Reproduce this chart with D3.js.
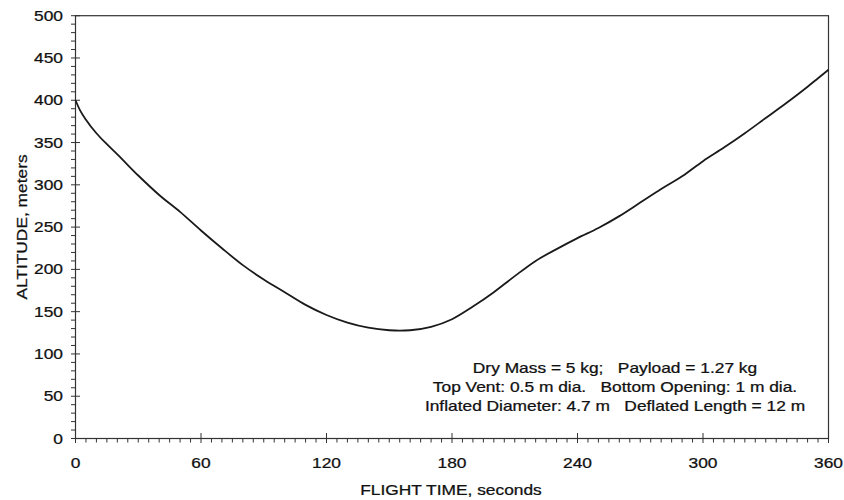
<!DOCTYPE html>
<html lang="en">
<head>
  <meta charset="UTF-8">
  <title>Altitude vs Flight Time</title>
  <script src="https://d3js.org/d3.v7.min.js"></script>
  <style>
    body {
      margin: 0;
      background-color: #ffffff;
      font-family: "Liberation Sans", Arial, sans-serif;
    }
    svg text {
      fill: #111;
      stroke: #111;
      stroke-width: 0.25px;
      white-space: pre;
    }
  </style>
</head>
<body>
  <div id="chart"></div>

  <script>
    // values
    const flightTime = [0, 2, 5, 10, 15, 20, 30, 40, 50, 60, 70, 80, 90, 100, 110, 120, 130, 140, 150, 155,
      160, 170, 180, 190, 200, 210, 220, 230, 240, 250, 260, 270, 280, 290, 300, 310, 320, 330, 340, 350, 355, 360];
    const altitude = [400, 389, 377, 361, 348, 336, 311, 288, 268, 246, 225, 205, 188, 173, 158, 146, 137, 131, 128, 127.5,
      128, 132, 141, 156, 173, 192, 210, 224, 237, 249, 263, 279, 295, 310, 328, 344, 361, 379, 397, 416, 426, 436];

    const xMajor = [0, 60, 120, 180, 240, 300, 360];
    const yMajor = [0, 50, 100, 150, 200, 250, 300, 350, 400, 450, 500];
    const notes = [
      "Dry Mass = 5 kg;   Payload = 1.27 kg",
      "Top Vent: 0.5 m dia.   Bottom Opening: 1 m dia.",
      "Inflated Diameter: 4.7 m   Deflated Length = 12 m"
    ];

    const width = 844, height = 500;
    const stretch = 1.24; // the reference text is drawn a bit wide

    const x = d3.scaleLinear().domain([0, 360]).range([75.5, 828.5]);
    const y = d3.scaleLinear().domain([0, 500]).range([438.5, 15.7]);

    const svg = d3.select("#chart")
      .append("svg")
      .attr("width", width)
      .attr("height", height);

    function label(g, px, py, text, anchor, size, rot) {
      return g.append("text")
        .attr("transform", `translate(${px},${py})${rot ? " rotate(" + rot + ")" : ""} scale(${stretch},1)`)
        .attr("text-anchor", anchor)
        .attr("xml:space", "preserve")
        .style("font-size", size + "px")
        .text(text);
    }

    // frame
    svg.append("rect")
      .attr("x", x(0))
      .attr("y", y(500))
      .attr("width", x(360) - x(0))
      .attr("height", y(0) - y(500))
      .attr("fill", "none")
      .attr("stroke", "#333")
      .attr("stroke-width", 1.2);

    // y ticks
    const yMinor = d3.range(0, 501, 10).filter(v => v % 50 !== 0);
    svg.selectAll(".ymin")
      .data(yMinor)
      .enter()
      .append("line")
      .attr("x1", x(0) - 4.5).attr("x2", x(0))
      .attr("y1", d => y(d)).attr("y2", d => y(d))
      .attr("stroke", "#333");
    svg.selectAll(".ymaj")
      .data(yMajor)
      .enter()
      .append("line")
      .attr("x1", x(0) - 4.5).attr("x2", x(0) + 4.5)
      .attr("y1", d => y(d)).attr("y2", d => y(d))
      .attr("stroke", "#333");
    yMajor.forEach(v => {
      label(svg, 63, y(v) + 5, String(v), "end", 14);
    });

    // x ticks
    const xMinor = d3.range(0, 361, 5).filter(v => v % 60 !== 0);
    svg.selectAll(".xmin")
      .data(xMinor)
      .enter()
      .append("line")
      .attr("x1", d => x(d)).attr("x2", d => x(d))
      .attr("y1", y(0)).attr("y2", y(0) + 4)
      .attr("stroke", "#333");
    svg.selectAll(".xmaj")
      .data(xMajor)
      .enter()
      .append("line")
      .attr("x1", d => x(d)).attr("x2", d => x(d))
      .attr("y1", y(0) - 5.5).attr("y2", y(0) + 4.5)
      .attr("stroke", "#333");
    xMajor.forEach(v => {
      label(svg, x(v), 468, String(v), "middle", 14);
    });

    // axis titles
    label(svg, 451, 495, "FLIGHT TIME, seconds", "middle", 14);
    label(svg, 27, 227, "ALTITUDE, meters", "middle", 14, -90);

    // the flight curve
    const pts = flightTime.map((t, i) => [t, altitude[i]]);
    svg.append("path")
      .datum(pts)
      .attr("fill", "none")
      .attr("stroke", "#1a1a1a")
      .attr("stroke-width", 1.8)
      .attr("d", d3.line().x(d => x(d[0])).y(d => y(d[1])).curve(d3.curveMonotoneX));

    // notes
    notes.forEach((n, i) => {
      label(svg, 615, 373 + i * 19, n, "middle", 14);
    });
  </script>
</body>
</html>
